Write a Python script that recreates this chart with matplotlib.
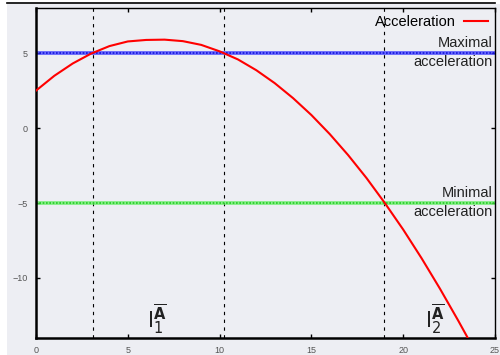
import matplotlib
matplotlib.use("Agg")
import matplotlib.pyplot as plt
from matplotlib.patches import Rectangle
from matplotlib.lines import Line2D

# --- data ---
time = [0, 1, 2, 3, 4, 5, 6, 7, 8, 9, 10, 11, 12, 13, 14, 15, 16, 17, 18, 19, 20, 21, 22, 23, 23.5]
acceleration = [2.5, 3.49, 4.31, 4.97, 5.47, 5.78, 5.88, 5.9, 5.8, 5.55, 5.12, 4.58, 3.86, 3.0, 2.0, 0.87,
                -0.4, -1.8, -3.33, -5.0, -6.77, -8.68, -10.71, -12.85, -13.96]
max_acc = 5
min_acc = -5
crossings = [3.1, 10.25, 18.98]
x_ticks = [0, 5, 10, 15, 20, 25]
y_ticks = [5, 0, -5, -10]
labels_I = [(6.6, r"$\mathsf{I}_{1}^{\overline{\mathbf{A}}}$"), (21.7, r"$\mathsf{I}_{2}^{\overline{\mathbf{A}}}$")]

bg = "#edeef3"
plt.rcParams['font.family'] = ['Liberation Sans', 'DejaVu Sans']
plt.rcParams['mathtext.fontset'] = 'dejavusans'

fig = plt.figure(figsize=(5, 3.55), dpi=100)
fig.patch.set_facecolor("white")
# gray page behind the plot, with the black rule at the top
fig.patches.append(Rectangle((7 / 500, 0), 1, 351 / 355, transform=fig.transFigure,
                             facecolor=bg, edgecolor="none", zorder=-5))
fig.lines.append(Line2D([7 / 500, 0.99], [352 / 355, 352 / 355], transform=fig.transFigure,
                        color="black", lw=1.2, zorder=-4))

ax = fig.add_axes([0.072, 0.048, 0.918, 0.929])
ax.set_zorder(2)
ax.set_facecolor(bg)

ax.plot(time, acceleration, color="red", lw=1.5, label="Acceleration", zorder=3)

# max / min acceleration bands
ax.axhline(max_acc, color="#4040ff", lw=2.8, alpha=0.75, zorder=2)
ax.axhline(max_acc, color="#1010dd", lw=1.2, ls=(0, (1, 1)), zorder=2)
ax.axhline(min_acc, color="#66ee66", lw=2.8, alpha=0.75, zorder=2)
ax.axhline(min_acc, color="#22cc22", lw=1.2, ls=(0, (1, 1)), zorder=2)

for c in crossings:
    ax.axvline(c, color="black", lw=0.8, ls=(0, (3, 4)), zorder=1)

txt = dict(ha="right", fontsize=10.5, color="#222222")
ax.text(24.85, max_acc + 0.2, "Maximal", va="bottom", **txt)
ax.text(24.85, max_acc - 0.15, "acceleration", va="top", **txt)
ax.text(24.85, min_acc + 0.2, "Minimal", va="bottom", **txt)
ax.text(24.85, min_acc - 0.15, "acceleration", va="top", **txt)

for xpos, s in labels_I:
    ax.text(xpos, -13.9, s, fontsize=15, ha="center", va="bottom", color="#222222")

ax.set_xlim(0, 25)
ax.set_ylim(-14, 8)
ax.set_xticks(x_ticks)
ax.set_yticks(y_ticks)
ax.tick_params(direction="in", length=3, width=1, top=True, right=True,
               labelsize=6.5, labelcolor="#555555", pad=6)

for side in ["left", "bottom"]:
    ax.spines[side].set_linewidth(1.8)
for side in ["top", "right"]:
    ax.spines[side].set_linewidth(1.0)

leg = ax.legend(loc="upper right", frameon=False, fontsize=10.5, handlelength=1.6,
                markerfirst=False, borderaxespad=0.1, handletextpad=0.6)

fig.savefig("out.png", dpi=100, facecolor=fig.get_facecolor())
